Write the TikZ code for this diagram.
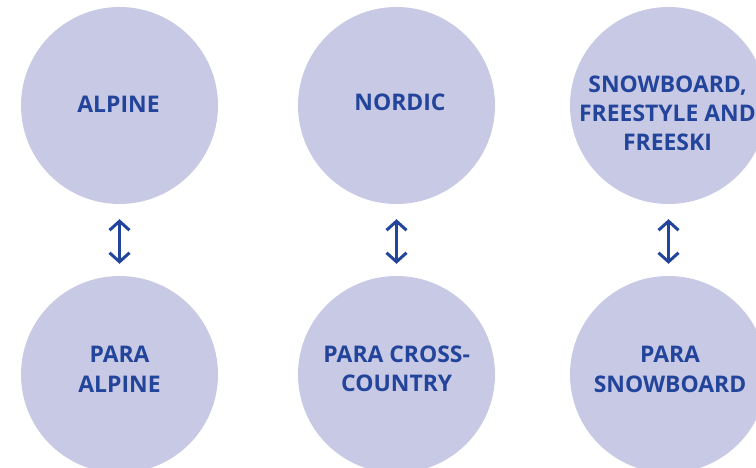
\documentclass[tikz,border=0pt]{standalone}
\usepackage{fontspec}
\setmainfont{Open Sans}
\usetikzlibrary{arrows.meta}
\definecolor{discfill}{HTML}{C8C9E4}
\definecolor{discblue}{HTML}{22449A}
\begin{document}
\begin{tikzpicture}[x=1bp,y=-1bp,
  disc/.style={circle,fill=discfill,minimum size=197bp,inner sep=0pt},
  disctext/.style={align=center,text=discblue,inner sep=0pt,
    font=\fontsize{23}{29.5}\selectfont\bfseries},
  pair/.style={draw=discblue,line width=3bp,
    {Straight Barb[length=9bp,width=20bp]}-{Straight Barb[length=9bp,width=20bp]},
    shorten <=15bp,shorten >=12bp}]
  \useasboundingbox (0,0) rectangle (756,468);
  % upper row
  \node[disc] (alpine) at (119.5,105.5) {};
  \node[disc] (nordic) at (396.5,105.5) {};
  \node[disc] (snow) at (668.5,105.5) {};
  \node[disctext] at (118.5,104) {ALPINE};
  \node[disctext] at (400,102) {NORDIC};
  \node[disctext] at (667.5,113.3) {SNOWBOARD,\\FREESTYLE AND\\FREESKI};
  % lower row
  \node[disc] (paraalpine) at (119.5,374.5) {};
  \node[disc] (paracross) at (396.5,374.5) {};
  \node[disc] (parasnow) at (668.5,374.5) {};
  \node[disctext] at (119.5,369.2) {PARA\\ALPINE};
  \node[disctext] at (396.7,369) {PARA CROSS-\\COUNTRY};
  \node[disctext] at (670,369.5) {PARA\\SNOWBOARD};
  \draw[pair] (alpine.south) -- (paraalpine.north);
  \draw[pair] (nordic.south) -- (paracross.north);
  \draw[pair] (snow.south) -- (parasnow.north);
\end{tikzpicture}
\end{document}
